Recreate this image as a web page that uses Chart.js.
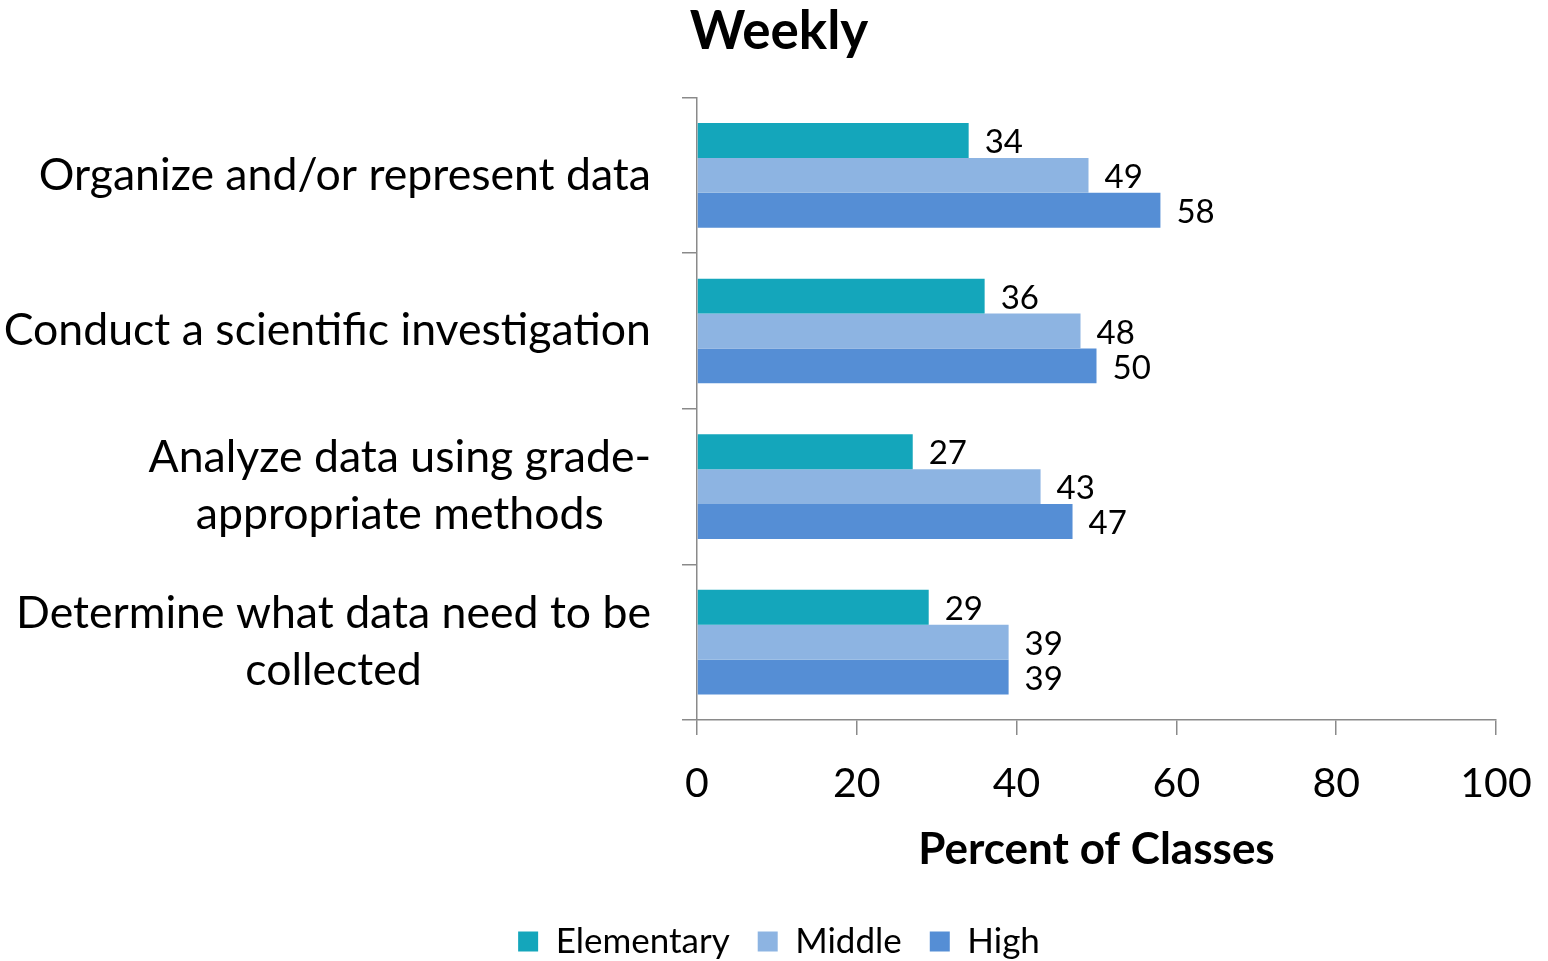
<!DOCTYPE html>
<html><head><meta charset="utf-8">
<script src="https://cdn.jsdelivr.net/npm/chart.js@4.4.1/dist/chart.umd.min.js"></script>
<style>html,body{margin:0;padding:0;background:#fff;}canvas{display:block;}</style>
</head><body>
<canvas id="c" width="1548" height="961"></canvas>
<script>
const categories = [
  ["Organize and/or represent data"],
  ["Conduct a scientific investigation"],
  ["Analyze data using grade-", "appropriate methods"],
  ["Determine what data need to be", "collected"]
];
const seriesNames = ["Elementary", "Middle", "High"];
const elementary = [34, 36, 27, 29];
const middle = [49, 48, 43, 39];
const high = [58, 50, 47, 39];
const xTicks = [0, 20, 40, 60, 80, 100];
const titleText = "Weekly";
const xTitle = "Percent of Classes";

const colors = ['#14A6BB', '#8DB4E2', '#558ED5'];
const FONT = 'Lato';
const AXIS_GRAY = '#8a8a8a';

Chart.defaults.color = '#000';
Chart.defaults.font.family = FONT;

const catLabelPlugin = {
  id: 'catLabels',
  afterDraw(chart) {
    const ctx = chart.ctx, ys = chart.scales.y;
    ctx.save();
    ctx.font = '44.6px ' + FONT;
    ctx.fillStyle = '#000';
    ctx.textBaseline = 'middle';
    ctx.textAlign = 'center';
    const right = ys.right - 46;
    const lh = 57;
    categories.forEach((lines, i) => {
      const w = Math.max(...lines.map(l => ctx.measureText(l).width));
      const cx = right - w / 2;
      const yc = ys.getPixelForValue(i);
      lines.forEach((l, j) => ctx.fillText(l, cx, yc + (j - (lines.length - 1) / 2) * lh));
    });
    ctx.restore();
  }
};

const valueLabelPlugin = {
  id: 'valueLabels',
  afterDatasetsDraw(chart) {
    const ctx = chart.ctx;
    ctx.save();
    ctx.font = '33px ' + FONT;
    ctx.fillStyle = '#000';
    ctx.textBaseline = 'middle';
    ctx.textAlign = 'left';
    chart.data.datasets.forEach((ds, di) => {
      const meta = chart.getDatasetMeta(di);
      meta.data.forEach((bar, i) => {
        ctx.fillText(String(ds.data[i]), bar.x + 16, bar.y + 2);
      });
    });
    ctx.restore();
  }
};

new Chart(document.getElementById('c'), {
  type: 'bar',
  data: {
    labels: categories,
    datasets: [
      { label: seriesNames[0], data: elementary, backgroundColor: colors[0] },
      { label: seriesNames[1], data: middle, backgroundColor: colors[1] },
      { label: seriesNames[2], data: high, backgroundColor: colors[2] }
    ]
  },
  options: {
    indexAxis: 'y',
    responsive: false,
    animation: false,
    devicePixelRatio: 1,
    layout: { padding: { left: 62, right: 52, top: 0, bottom: -8 } },
    datasets: { bar: { categoryPercentage: 0.673, barPercentage: 1.0, borderWidth: 0 } },
    plugins: {
      title: {
        display: true, text: titleText, color: '#000',
        font: { family: FONT, size: 53, weight: 'bold' },
        padding: { top: 0, bottom: 34 }
      },
      legend: {
        position: 'bottom',
        labels: {
          font: { family: FONT, size: 35 }, color: '#000',
          boxWidth: 20, boxHeight: 20, padding: 28
        }
      },
      tooltip: { enabled: false }
    },
    scales: {
      x: {
        type: 'linear', min: 0, max: 100,
        afterBuildTicks: s => { s.ticks = xTicks.map(v => ({ value: v })); },
        afterFit: s => { s.height = 176; s.paddingRight = 30; s.paddingLeft = 20; },
        grid: { display: true, drawOnChartArea: false, drawTicks: true, tickLength: 15, color: AXIS_GRAY, lineWidth: 1.5 },
        border: { display: true, color: AXIS_GRAY, width: 1.5 },
        ticks: { font: { family: FONT, size: 41 }, color: '#000', padding: 24, maxRotation: 0 },
        title: { display: true, text: xTitle, color: '#000', font: { family: FONT, size: 44, weight: 'bold' }, padding: { top: 0, bottom: 19.6 } }
      },
      y: {
        type: 'category',
        afterFit: s => { s.width = 635; },
        grid: { display: true, drawOnChartArea: false, drawTicks: true, tickLength: 15, color: AXIS_GRAY, lineWidth: 1.5, offset: true },
        border: { display: true, color: AXIS_GRAY, width: 1.5 },
        ticks: { display: false }
      }
    }
  },
  plugins: [catLabelPlugin, valueLabelPlugin]
});
</script>
</body></html>
